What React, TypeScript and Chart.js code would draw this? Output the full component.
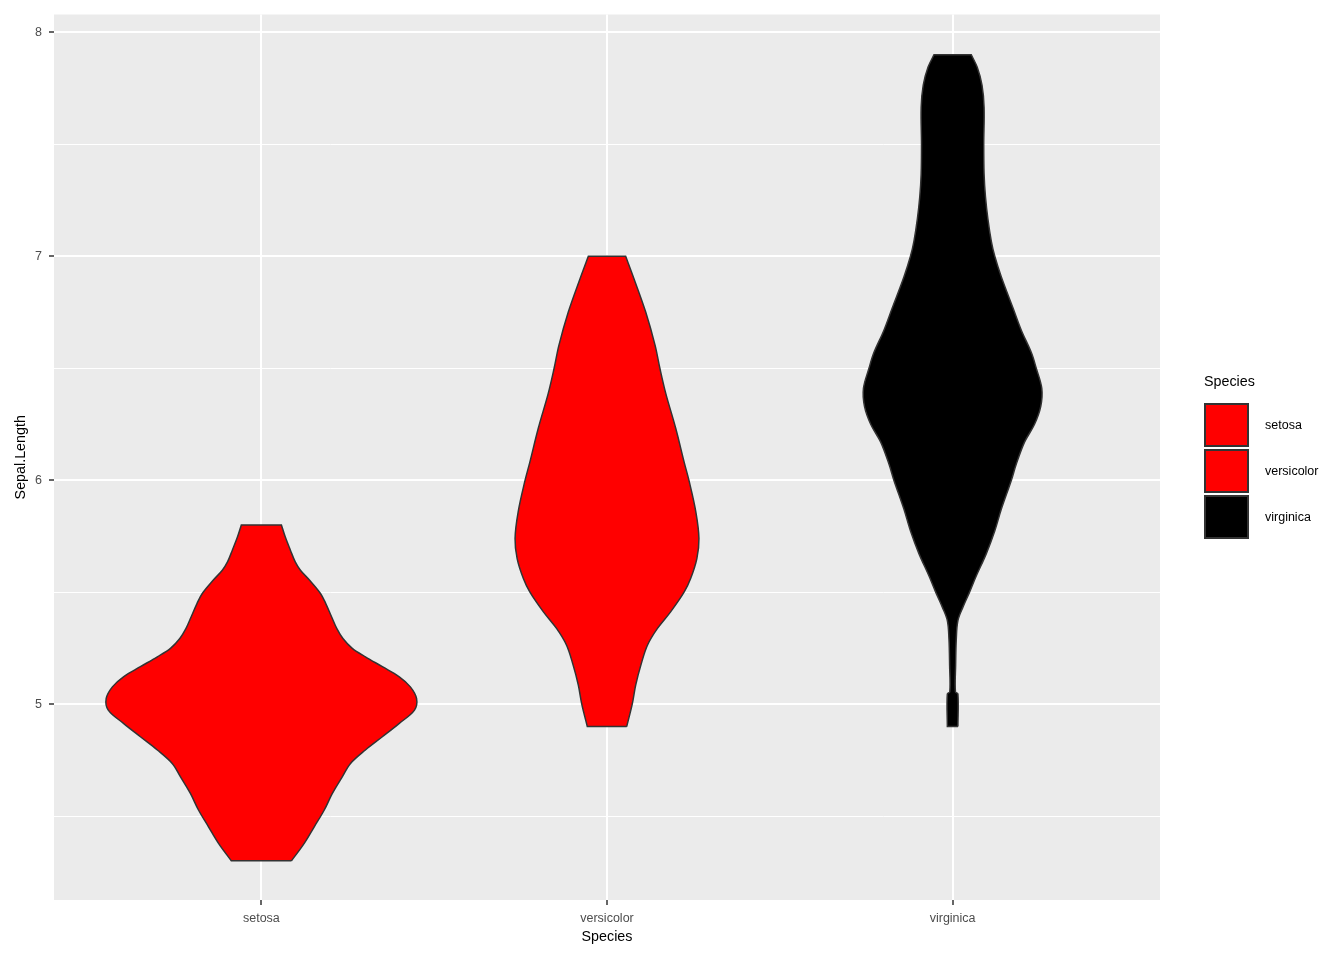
import React, { useEffect, useRef } from 'react';
import { Chart, registerables } from 'chart.js';

Chart.register(...registerables);

const species = ['setosa', 'versicolor', 'virginica'];
const fillColors = ['#FF0000', '#FF0000', '#000000'];
const yMajorTicks = [5, 6, 7, 8];
const yAllTicks = [4.5, 5, 5.5, 6, 6.5, 7, 7.5, 8];

// Violin outlines: Sepal.Length values (bottom to top) and half-widths (in category units)
const setosaY = [4.3, 4.378, 4.452, 4.527, 4.6, 4.675, 4.735, 4.795, 4.854, 4.914, 4.973, 5.025, 5.077, 5.122, 5.167, 5.211, 5.249, 5.293, 5.338, 5.39, 5.45, 5.494, 5.554, 5.598, 5.635, 5.6875, 5.747, 5.8];
const setosaW = [0.087, 0.124, 0.153, 0.182, 0.205, 0.234, 0.258, 0.301, 0.35, 0.399, 0.443, 0.449, 0.431, 0.399, 0.35, 0.301, 0.263, 0.236, 0.218, 0.203, 0.186, 0.171, 0.139, 0.113, 0.098, 0.084, 0.069, 0.058];

const versicolorY = [4.9, 5.0, 5.085, 5.174, 5.263, 5.338, 5.412, 5.5, 5.561, 5.65, 5.74, 5.859, 6.0, 6.082, 6.231, 6.388, 6.5, 6.603, 6.751, 6.9, 7.0];
const versicolorW = [0.057, 0.073, 0.083, 0.098, 0.117, 0.146, 0.184, 0.223, 0.242, 0.26, 0.266, 0.257, 0.237, 0.223, 0.199, 0.17, 0.153, 0.139, 0.112, 0.078, 0.054];

const virginicaY = [4.9, 5.045, 5.055, 5.174, 5.294, 5.373, 5.433, 5.5, 5.573, 5.672, 5.772, 5.871, 6.0, 6.071, 6.17, 6.25, 6.33, 6.41, 6.5, 6.569, 6.669, 6.768, 6.908, 7.0, 7.067, 7.167, 7.267, 7.367, 7.5, 7.665, 7.765, 7.845, 7.9];
const virginicaW = [0.0153, 0.0153, 0.0081, 0.0087, 0.0107, 0.0153, 0.0298, 0.049, 0.0686, 0.0975, 0.1216, 0.141, 0.17, 0.184, 0.208, 0.237, 0.255, 0.258, 0.242, 0.228, 0.199, 0.175, 0.141, 0.122, 0.112, 0.102, 0.095, 0.091, 0.09, 0.091, 0.085, 0.071, 0.054];

const violinYs = [setosaY, versicolorY, virginicaY];
const violinWs = [setosaW, versicolorW, virginicaW];

const FONT = '"Liberation Sans", Arial, sans-serif';
const TICK_SIZE = 12.5;
const TITLE_SIZE = 14.3;

function outline(center: number, ys: number[], ws: number[]) {
  const right = ys.map((y, i) => ({ x: center + ws[i], y }));
  const left = ys.map((y, i) => ({ x: center - ws[i], y })).reverse();
  const n = right.length;
  return [
    right[0], right[0],
    ...right.slice(1, n - 1),
    right[n - 1], right[n - 1],
    left[0], left[0],
    ...left.slice(1, n - 1),
    left[n - 1], left[n - 1],
    right[0],
  ];
}

const panelBg = {
  id: 'panelBg',
  beforeDraw(chart: any) {
    const { ctx, chartArea } = chart;
    ctx.save();
    ctx.fillStyle = '#EBEBEB';
    ctx.fillRect(chartArea.left, chartArea.top, chartArea.right - chartArea.left, chartArea.bottom - chartArea.top);
    ctx.restore();
  },
};

const ggLegend = {
  id: 'ggLegend',
  afterDraw(chart: any) {
    const { ctx } = chart;
    ctx.save();
    ctx.textBaseline = 'middle';
    ctx.textAlign = 'left';
    ctx.fillStyle = '#000000';
    ctx.font = `${TITLE_SIZE}px ${FONT}`;
    ctx.fillText('Species', 1204, 382);
    species.forEach((name, i) => {
      const y0 = 404 + i * 46;
      ctx.fillStyle = fillColors[i];
      ctx.fillRect(1205, y0, 43, 42);
      ctx.strokeStyle = '#333333';
      ctx.lineWidth = 2;
      ctx.strokeRect(1205, y0, 43, 42);
      ctx.fillStyle = '#000000';
      ctx.font = `${TICK_SIZE}px ${FONT}`;
      ctx.fillText(name, 1265, y0 + 22);
    });
    ctx.restore();
  },
};

export default function App() {
  const ref = useRef<HTMLCanvasElement | null>(null);

  useEffect(() => {
    if (!ref.current) return;
    const datasets = species.map((name, i) => ({
      label: name,
      data: outline(i + 1, violinYs[i], violinWs[i]),
      borderColor: '#333333',
      borderWidth: 1.5,
      backgroundColor: fillColors[i],
      fill: 'shape',
      pointRadius: 0,
      tension: 0.35,
    }));

    const chart = new Chart(ref.current, {
      type: 'line',
      data: { datasets } as any,
      plugins: [panelBg, ggLegend],
      options: {
        animation: false,
        responsive: false,
        devicePixelRatio: 1,
        layout: { padding: { left: 0, top: 14, right: 184, bottom: 0 } },
        plugins: { legend: { display: false }, tooltip: { enabled: false } },
        scales: {
          x: {
            type: 'linear',
            min: 0.4,
            max: 3.6,
            afterBuildTicks: (s: any) => {
              s.ticks = species.map((_, i) => ({ value: i + 1 }));
            },
            afterFit: (s: any) => {
              s.height = 60;
            },
            ticks: {
              callback: (v: any) => species[Math.round(Number(v)) - 1] ?? '',
              font: { family: FONT, size: TICK_SIZE },
              color: '#4D4D4D',
              padding: 6,
              maxRotation: 0,
              autoSkip: false,
            },
            grid: {
              color: '#FFFFFF',
              lineWidth: 2,
              tickLength: 5,
              tickColor: '#333333',
              tickWidth: 1.5,
            },
            border: { display: false },
            title: {
              display: true,
              text: 'Species',
              color: '#000000',
              font: { family: FONT, size: TITLE_SIZE },
              padding: { top: 0, bottom: 14 },
            },
          },
          y: {
            type: 'linear',
            min: 4.125,
            max: 8.08,
            afterBuildTicks: (s: any) => {
              s.ticks = yAllTicks.map((v) => ({ value: v }));
            },
            afterFit: (s: any) => {
              s.width = 54;
            },
            ticks: {
              callback: (v: any) => (yMajorTicks.includes(Number(v)) ? String(v) : ''),
              font: { family: FONT, size: TICK_SIZE },
              color: '#4D4D4D',
              padding: 7,
            },
            grid: {
              color: '#FFFFFF',
              lineWidth: (c: any) => (yMajorTicks.includes(c.tick?.value) ? 2 : 1),
              tickLength: 5,
              tickColor: (c: any) => (yMajorTicks.includes(c.tick?.value) ? '#333333' : 'rgba(0,0,0,0)'),
              tickWidth: 1.5,
            },
            border: { display: false },
            title: {
              display: true,
              text: 'Sepal.Length',
              color: '#000000',
              font: { family: FONT, size: TITLE_SIZE },
              padding: { top: 12, bottom: 0 },
            },
          },
        },
      } as any,
    });
    return () => chart.destroy();
  }, []);

  return (
    <div style={{ position: 'absolute', left: 0, top: 0, width: 1344, height: 960, background: '#FFFFFF' }}>
      <canvas ref={ref} width={1344} height={960} style={{ width: 1344, height: 960, display: 'block' }} />
    </div>
  );
}
